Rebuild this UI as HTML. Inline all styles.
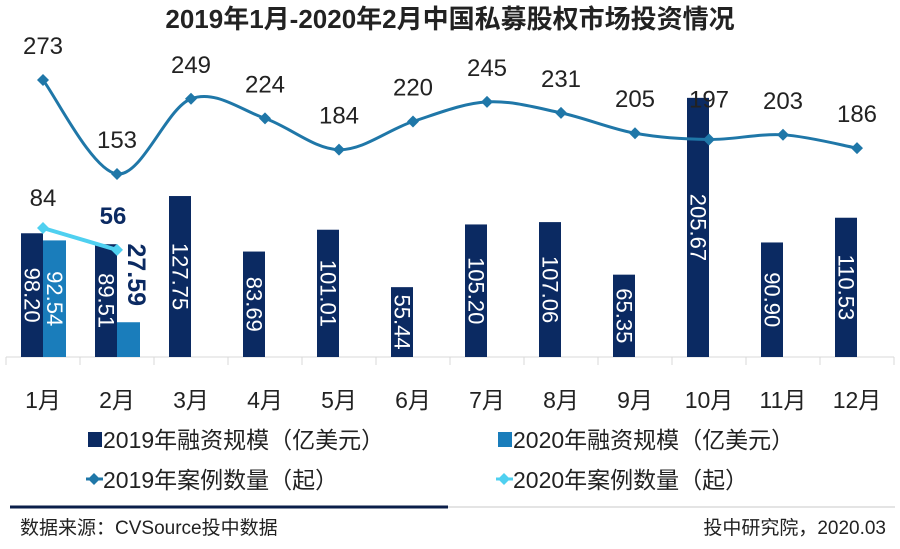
<!DOCTYPE html>
<html><head><meta charset="utf-8"><style>
body{margin:0;background:#fff;width:900px;height:544px;overflow:hidden;font-family:"Liberation Sans","Noto Sans CJK SC",sans-serif}
</style></head><body>
<svg id="c" width="900" height="544" xmlns="http://www.w3.org/2000/svg" style="font-family:'Liberation Sans','Noto Sans CJK SC',sans-serif">
<text x="450" y="28" text-anchor="middle" font-size="26" font-weight="bold" fill="#222">2019年1月-2020年2月中国私募股权市场投资情况</text>
<g id="g"></g>
<g>
<rect x="88" y="432" width="14" height="15" fill="#0b2a62"/>
<text x="103" y="448" font-size="23" fill="#222">2019年融资规模（亿美元）</text>
<rect x="498" y="432" width="14" height="15" fill="#1a7dbb"/>
<text x="513" y="448" font-size="23" fill="#222">2020年融资规模（亿美元）</text>
<line x1="86" y1="479" x2="103" y2="479" stroke="#1f77a8" stroke-width="3"/>
<path d="M94 473 L100 479 L94 485 L88 479Z" fill="#1f77a8"/>
<text x="103" y="488" font-size="23" fill="#222">2019年案例数量（起）</text>
<line x1="496" y1="479" x2="513" y2="479" stroke="#4fd0f0" stroke-width="3"/>
<path d="M504 473 L510 479 L504 485 L498 479Z" fill="#4fd0f0"/>
<text x="513" y="488" font-size="23" fill="#222">2020年案例数量（起）</text>
</g>
<line x1="448" y1="507" x2="895" y2="507" stroke="#e4e4e4" stroke-width="2"/>
<line x1="10" y1="507" x2="448" y2="507" stroke="#0b1f4a" stroke-width="3"/>
<text x="20" y="534" font-size="19" fill="#222">数据来源：CVSource投中数据</text>
<text x="886" y="534" font-size="19" fill="#222" text-anchor="end">投中研究院，2020.03</text>
</svg>
<script>
const categories=["1月","2月","3月","4月","5月","6月","7月","8月","9月","10月","11月","12月"];
const amount2019=[98.20,89.51,127.75,83.69,101.01,55.44,105.20,107.06,65.35,205.67,90.90,110.53];
const amount2020=[92.54,27.59];
const count2019=[273,153,249,224,184,220,245,231,205,197,203,186];
const count2020=[84,56];
const NS="http://www.w3.org/2000/svg";
const g=document.getElementById('g');
const left=6,band=74,base=357;
const xc=i=>left+band*i+band/2;
const yBar=v=>base-v*1.26;
const yLine=v=>80+(273-v)*0.783;
function mk(t,a,p){const e=document.createElementNS(NS,t);for(const k in a)e.setAttribute(k,a[k]);(p||g).appendChild(e);return e;}
let ax=mk('line',{x1:left,y1:base,x2:left+band*12,y2:base,stroke:'#d9d9d9','stroke-width':1});


categories.forEach((c,i)=>{
  let tk=mk('line',{x1:left+band*i,y1:base,x2:left+band*i,y2:base+8,stroke:'#d9d9d9'});
  
  
  let t=mk('text',{x:xc(i),y:408,'text-anchor':'middle','font-size':23,fill:'#222'});
  t.textContent=c;
  
  
});
mk('line',{x1:left+band*12,y1:base,x2:left+band*12,y2:base+8,stroke:'#d9d9d9'});
function vlabel(x,yTop,h,txt,bold){
  let cy=yTop+h/2;
  let t=mk('text',{x:x,y:cy,'text-anchor':'middle','dominant-baseline':'central','font-size':bold?25:22,fill:bold?'#0b2a62':'#fff','font-weight':bold?'bold':'normal',transform:`rotate(90 ${x} ${cy})`});
  if(bold){t.setAttribute('stroke','#fff');t.setAttribute('stroke-width','3');t.setAttribute('paint-order','stroke');}
  t.textContent=txt;
  
  
}
amount2019.forEach((v,i)=>{
  let y=yBar(v);
  let r=mk('rect',{x:xc(i)-22,y:y,width:22,height:base-y,fill:'#0b2a62'});
  
  
  vlabel(xc(i)-11,y,base-y,v.toFixed(2),false);
});
amount2020.forEach((v,i)=>{
  let y=yBar(v);
  let r=mk('rect',{x:xc(i),y:y,width:23,height:base-y,fill:'#1a7dbb'});
  
  
  if(base-y>90) vlabel(xc(i)+11.5,y,base-y,v.toFixed(2),false);
  else vlabel(xc(i)+19,y-95,95,v.toFixed(2),true);
});
const pts=count2019.map((v,i)=>[xc(i),yLine(v)]);
let d='M'+pts[0][0]+' '+pts[0][1];
for(let i=0;i<pts.length-1;i++){
  const p0=pts[i-1]||pts[i],p1=pts[i],p2=pts[i+1],p3=pts[i+2]||p2;
  const k=6;
  d+=` C${p1[0]+(p2[0]-p0[0])/k} ${p1[1]+(p2[1]-p0[1])/k} ${p2[0]-(p3[0]-p1[0])/k} ${p2[1]-(p3[1]-p1[1])/k} ${p2[0]} ${p2[1]}`;
}
let l=mk('path',{d:d,fill:'none',stroke:'#1f77a8','stroke-width':3});


pts.forEach((p,i)=>{
  let m=mk('path',{d:`M${p[0]} ${p[1]-6}L${p[0]+6} ${p[1]}L${p[0]} ${p[1]+6}L${p[0]-6} ${p[1]}Z`,fill:'#1f77a8'});
  
  
  let t=mk('text',{x:p[0],y:p[1]-(i==9?32:26),'text-anchor':'middle','font-size':24,fill:'#222'});
  t.textContent=count2019[i];
  
  
});
const p20=count2020.map((v,i)=>[xc(i),yLine(v)]);
let l2=mk('polyline',{points:p20.map(p=>p.join(',')).join(' '),fill:'none',stroke:'#4fd0f0','stroke-width':4});


p20.forEach((p,i)=>{
  let m=mk('path',{d:`M${p[0]} ${p[1]-6}L${p[0]+6} ${p[1]}L${p[0]} ${p[1]+6}L${p[0]-6} ${p[1]}Z`,fill:'#4fd0f0'});
  
  
  let t=mk('text',{x:p[0]-(i==1?4:0),y:p[1]-(i==1?26:22),'text-anchor':'middle','font-size':24,fill:i==1?'#0b2a62':'#222','font-weight':i==1?'bold':'normal'});
  t.textContent=count2020[i];
  
  
});
</script>
</body></html>
